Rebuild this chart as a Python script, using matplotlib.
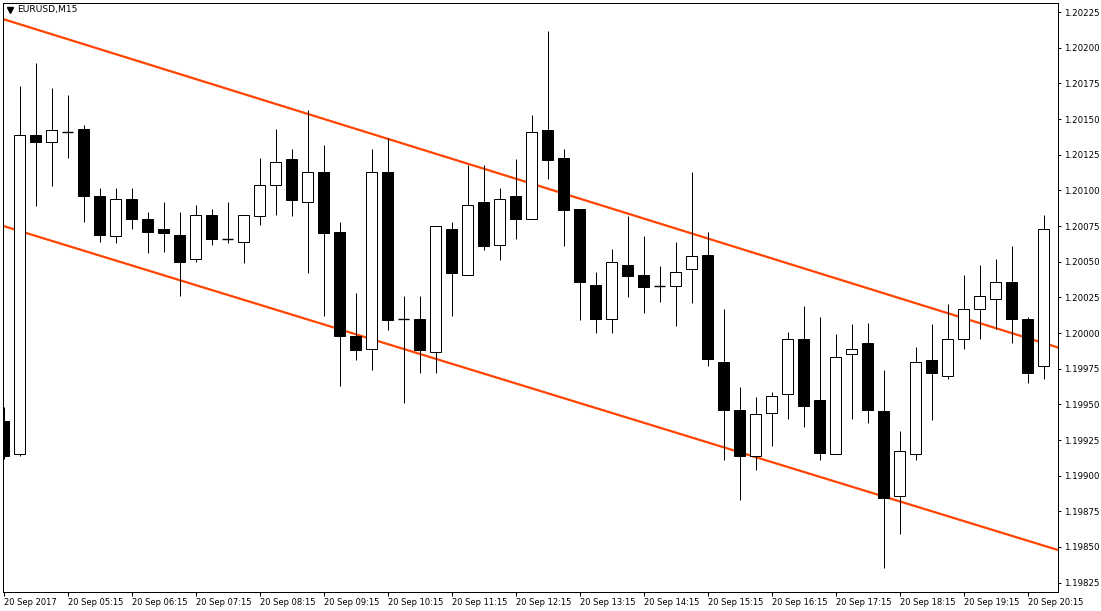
import matplotlib
matplotlib.use("Agg")
import matplotlib.pyplot as plt
from matplotlib.ticker import FixedLocator, FuncFormatter

# ---------------- data ----------------
symbol_title = "EURUSD,M15"

time_labels = ["20 Sep 2017", "20 Sep 05:15", "20 Sep 06:15", "20 Sep 07:15",
               "20 Sep 08:15", "20 Sep 09:15", "20 Sep 10:15", "20 Sep 11:15",
               "20 Sep 12:15", "20 Sep 13:15", "20 Sep 14:15", "20 Sep 15:15",
               "20 Sep 16:15", "20 Sep 17:15", "20 Sep 18:15", "20 Sep 19:15",
               "20 Sep 20:15"]

price_ticks = [1.19825, 1.19850, 1.19875, 1.19900, 1.19925, 1.19950, 1.19975,
               1.20000, 1.20025, 1.20050, 1.20075, 1.20100, 1.20125, 1.20150,
               1.20175, 1.20200, 1.20225]

opens = [1.19938, 1.19915, 1.20139, 1.20134, 1.20141, 1.20143, 1.20096, 1.20068,
         1.20094, 1.20080, 1.20073, 1.20069, 1.20052, 1.20083, 1.20066, 1.20064,
         1.20082, 1.20104, 1.20122, 1.20092, 1.20113, 1.20071, 1.19998, 1.19989,
         1.20113, 1.20010, 1.20010, 1.19987, 1.20073, 1.20041, 1.20092, 1.20062,
         1.20096, 1.20080, 1.20142, 1.20123, 1.20087, 1.20034, 1.20010, 1.20048,
         1.20041, 1.20033, 1.20033, 1.20045, 1.20055, 1.19980, 1.19946, 1.19914,
         1.19944, 1.19957, 1.19996, 1.19953, 1.19915, 1.19985, 1.19993, 1.19945,
         1.19886, 1.19915, 1.19981, 1.19970, 1.19996, 1.20017, 1.20024, 1.20036,
         1.20010, 1.19977]

highs = [1.19948, 1.20173, 1.20189, 1.20172, 1.20167, 1.20146, 1.20102, 1.20102,
         1.20102, 1.20085, 1.20092, 1.20085, 1.20090, 1.20087, 1.20092, 1.20083,
         1.20123, 1.20143, 1.20129, 1.20156, 1.20132, 1.20078, 1.20028, 1.20129,
         1.20137, 1.20026, 1.20026, 1.20075, 1.20078, 1.20118, 1.20118, 1.20102,
         1.20122, 1.20153, 1.20212, 1.20129, 1.20087, 1.20043, 1.20059, 1.20082,
         1.20068, 1.20047, 1.20064, 1.20113, 1.20071, 1.20017, 1.19962, 1.19955,
         1.19959, 1.20001, 1.20019, 1.20011, 1.19999, 1.20006, 1.20007, 1.19974,
         1.19931, 1.19990, 1.20006, 1.20020, 1.20041, 1.20048, 1.20052, 1.20061,
         1.20011, 1.20083]

lows = [1.19912, 1.19914, 1.20089, 1.20103, 1.20123, 1.20078, 1.20064, 1.20063,
        1.20073, 1.20056, 1.20057, 1.20026, 1.20050, 1.20062, 1.20063, 1.20049,
        1.20076, 1.20083, 1.20082, 1.20042, 1.20012, 1.19963, 1.19981, 1.19974,
        1.20002, 1.19951, 1.19972, 1.19972, 1.20012, 1.20041, 1.20058, 1.20051,
        1.20066, 1.20080, 1.20108, 1.20061, 1.20009, 1.20000, 1.20000, 1.20025,
        1.20014, 1.20022, 1.20005, 1.20021, 1.19977, 1.19911, 1.19883, 1.19904,
        1.19921, 1.19940, 1.19934, 1.19911, 1.19915, 1.19940, 1.19937, 1.19835,
        1.19859, 1.19911, 1.19939, 1.19968, 1.19989, 1.19996, 1.20003, 1.19993,
        1.19965, 1.19968]

closes = [1.19914, 1.20139, 1.20134, 1.20142, 1.20141, 1.20096, 1.20069, 1.20094,
          1.20080, 1.20071, 1.20070, 1.20050, 1.20083, 1.20066, 1.20066, 1.20083,
          1.20104, 1.20120, 1.20093, 1.20113, 1.20070, 1.19998, 1.19988, 1.20113,
          1.20009, 1.20010, 1.19988, 1.20075, 1.20042, 1.20090, 1.20061, 1.20094,
          1.20080, 1.20141, 1.20121, 1.20086, 1.20036, 1.20010, 1.20050, 1.20040,
          1.20032, 1.20033, 1.20043, 1.20054, 1.19982, 1.19946, 1.19914, 1.19943,
          1.19956, 1.19996, 1.19949, 1.19916, 1.19983, 1.19989, 1.19946, 1.19884,
          1.19917, 1.19980, 1.19972, 1.19996, 1.20017, 1.20026, 1.20036, 1.20010,
          1.19972, 1.20073]

# channel anchors: price at first bar and at last bar
upper_channel = [1.20220, 1.19993]
lower_channel = [1.20075, 1.19851]

# ---------------- figure ----------------
W, H = 1101, 611
fig = plt.figure(figsize=(W / 100, H / 100), dpi=100)
fig.patch.set_facecolor("white")
ax = fig.add_axes([2.5 / W, (H - 591.5) / H, 1055 / W, 589 / H])
ax.set_facecolor("white")

n = len(opens)
xs = list(range(n))
px = 0.72  # 1 pixel in points

# channel lines (behind candles)
ax.axline((0, upper_channel[0]), (n - 1, upper_channel[1]),
          color="#FF4500", lw=1.6, zorder=1)
ax.axline((0, lower_channel[0]), (n - 1, lower_channel[1]),
          color="#FF4500", lw=1.6, zorder=1)

# wicks
ax.vlines(xs, lows, highs, color="black", lw=px, zorder=2)

# bodies
body_w = 0.66
for i in xs:
    o, c = opens[i], closes[i]
    if c > o:
        fc = "white"
    else:
        fc = "black"
    bottom = min(o, c)
    height = abs(c - o)
    if height < 1e-7:
        ax.hlines(o, i - body_w / 2, i + body_w / 2, color="black", lw=px * 1.4, zorder=3)
    else:
        ax.bar(i, height, bottom=bottom, width=body_w, color=fc,
               edgecolor="black", linewidth=px, zorder=3)

ax.set_xlim(-0.0625, 65.875)
ax.set_ylim(1.198188, 1.202317)

# axes styling
for s in ax.spines.values():
    s.set_linewidth(px)
    s.set_color("black")

ax.yaxis.tick_right()
ax.yaxis.set_major_locator(FixedLocator(price_ticks))
ax.yaxis.set_major_formatter(FuncFormatter(lambda v, p: f"{v:.5f}"))
ax.tick_params(axis="y", direction="out", length=2.5, width=px, pad=2.2,
               labelsize=6.2, colors="black")

tick_pos = list(range(0, 4 * len(time_labels), 4))
ax.xaxis.set_major_locator(FixedLocator(tick_pos))
ax.set_xticklabels(time_labels)
ax.tick_params(axis="x", direction="out", length=3, width=px, pad=1.5,
               labelsize=6.0, colors="black")
for lbl in ax.get_xticklabels():
    lbl.set_horizontalalignment("left")

# title with small triangle
ax.plot([0.0072], [0.9875], marker="v", color="black", markersize=4,
        transform=ax.transAxes, clip_on=False, zorder=5)
ax.text(0.0137, 0.9875, symbol_title, transform=ax.transAxes, fontsize=6.6,
        ha="left", va="center", color="black", zorder=5)

fig.savefig("out.png", dpi=100, facecolor="white")
